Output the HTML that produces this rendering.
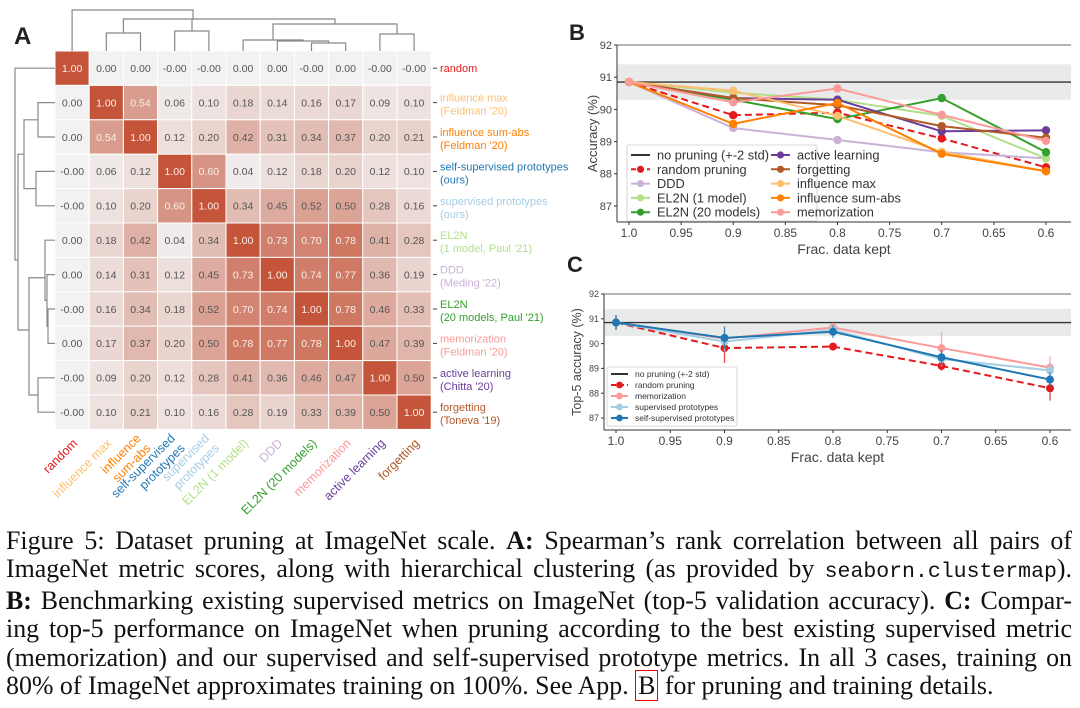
<!DOCTYPE html>
<html><head><meta charset="utf-8">
<style>
body{margin:0;width:1080px;height:708px;background:#fff;overflow:hidden;position:relative;font-family:"Liberation Sans",sans-serif}
svg{position:absolute;left:0;top:0}
#cap{position:absolute;left:6px;top:527px;width:1066px;font-family:"Liberation Serif",serif;font-size:25.9px;line-height:28.4px;text-align:justify;color:#111}
#cap .l{display:block;text-align:justify;text-align-last:justify;white-space:nowrap}
#cap .last{text-align-last:left}
.mono{font-family:"Liberation Mono",monospace;font-size:21.5px}
.bx{border:1.5px solid #e00;padding:0 2px}
</style></head><body>
<svg id="fig" width="1080" height="520"></svg>
<div id="cap">
<span class="l">Figure 5: Dataset pruning at ImageNet scale. <b>A:</b> Spearman’s rank correlation between all pairs of</span>
<span class="l">ImageNet metric scores, along with hierarchical clustering (as provided by <span class="mono">seaborn.clustermap</span>).</span>
<span class="l"><b>B:</b> Benchmarking existing supervised metrics on ImageNet (top-5 validation accuracy). <b>C:</b> Compar-</span>
<span class="l">ing top-5 performance on ImageNet when pruning according to the best existing supervised metric</span>
<span class="l">(memorization) and our supervised and self-supervised prototype metrics. In all 3 cases, training on</span>
<span class="l last">80% of ImageNet approximates training on 100%. See App. <span class="bx">B</span> for pruning and training details.</span>
</div>
<script>
const labels=["random","influence max","influence sum-abs","self-supervised prototypes","supervised prototypes","EL2N (1 model)","DDD","EL2N (20 models)","memorization","active learning","forgetting"];
const rowLabels=[["random"],["influence max","(Feldman '20)"],["influence sum-abs","(Feldman '20)"],["self-supervised prototypes","(ours)"],["supervised prototypes","(ours)"],["EL2N","(1 model, Paul '21)"],["DDD","(Meding '22)"],["EL2N","(20 models, Paul '21)"],["memorization","(Feldman '20)"],["active learning","(Chitta '20)"],["forgetting","(Toneva '19)"]];
const colLabels=[["random"],["influence max"],["influence","sum-abs"],["self-supervised","prototypes"],["supervised","prototypes"],["EL2N (1 model)"],["DDD"],["EL2N (20 models)"],["memorization"],["active learning"],["forgetting"]];
const colors=["#e41a1c","#fdbf6f","#ff7f00","#1f78b4","#a6cee3","#b2df8a","#cab2d6","#33a02c","#fb9a99","#6a3d9a","#b15928"];
const corrText=[
["1.00","0.00","0.00","-0.00","-0.00","0.00","0.00","-0.00","0.00","-0.00","-0.00"],
["0.00","1.00","0.54","0.06","0.10","0.18","0.14","0.16","0.17","0.09","0.10"],
["0.00","0.54","1.00","0.12","0.20","0.42","0.31","0.34","0.37","0.20","0.21"],
["-0.00","0.06","0.12","1.00","0.60","0.04","0.12","0.18","0.20","0.12","0.10"],
["-0.00","0.10","0.20","0.60","1.00","0.34","0.45","0.52","0.50","0.28","0.16"],
["0.00","0.18","0.42","0.04","0.34","1.00","0.73","0.70","0.78","0.41","0.28"],
["0.00","0.14","0.31","0.12","0.45","0.73","1.00","0.74","0.77","0.36","0.19"],
["-0.00","0.16","0.34","0.18","0.52","0.70","0.74","1.00","0.78","0.46","0.33"],
["0.00","0.17","0.37","0.20","0.50","0.78","0.77","0.78","1.00","0.47","0.39"],
["-0.00","0.09","0.20","0.12","0.28","0.41","0.36","0.46","0.47","1.00","0.50"],
["-0.00","0.10","0.21","0.10","0.16","0.28","0.19","0.33","0.39","0.50","1.00"]];
const fracs=[1.0,0.9,0.8,0.7,0.6];
const xTicks=[1.0,0.95,0.9,0.85,0.8,0.75,0.7,0.65,0.6];
const xTickLabels=["1.0","0.95","0.9","0.85","0.8","0.75","0.7","0.65","0.6"];
const yTicks=[87,88,89,90,91,92];
const baseline=90.85, bandLo=90.3, bandHi=91.4;
const bNames=["random pruning","DDD","EL2N (1 model)","EL2N (20 models)","active learning","forgetting","influence max","influence sum-abs","memorization"];
const bColors=["#e41a1c","#cab2d6","#b2df8a","#33a02c","#6a3d9a","#b15928","#fdbf6f","#ff7f00","#fb9a99"];
const bRandom=[90.85,89.82,89.9,89.1,88.2];
const bDDD=[90.85,89.42,89.05,88.67,88.48];
const bEL2N1=[90.85,90.52,90.3,89.8,88.48];
const bEL2N20=[90.85,90.3,89.7,90.35,88.67];
const bActive=[90.85,90.35,90.3,89.32,89.35];
const bForget=[90.85,90.35,90.13,89.48,89.12];
const bInflMax=[90.85,90.58,89.8,88.68,88.08];
const bInflSum=[90.85,89.55,90.2,88.62,88.08];
const bMemo=[90.85,90.22,90.65,89.83,89.02];
const cNames=["random pruning","memorization","supervised prototypes","self-supervised prototypes"];
const cColors=["#e41a1c","#fb9a99","#a6cee3","#1f78b4"];
const cRandom=[90.85,89.82,89.88,89.1,88.2];
const cMemo=[90.85,90.2,90.65,89.82,89.03];
const cSup=[90.85,90.08,90.55,89.38,88.92];
const cSelf=[90.85,90.23,90.48,89.45,88.55];
const cRandomErr=[0.3,0.6,0.15,0.2,0.5];
const cMemoErr=[0.3,0.5,0.2,0.65,0.45];
const cSupErr=[0.3,0.4,0.2,0.3,0.3];
const cSelfErr=[0.3,0.45,0.25,0.3,0.3];

const S=document.getElementById('fig');const NS="http://www.w3.org/2000/svg";
function el(t,a,p){const e=document.createElementNS(NS,t);for(const k in a)e.setAttribute(k,a[k]);(p||S).appendChild(e);return e;}
function txt(s,a,p){const e=el('text',a,p);e.textContent=s;return e;}
function lerp(a,b,t){return Math.round(a+(b-a)*t);}
function cellColor(v){v=Math.max(0,v);return `rgb(${lerp(242,196,v)},${lerp(242,85,v)},${lerp(242,58,v)})`;}

let t;
t=txt("A",{x:14,y:44,"font-size":24,"font-weight":"bold",fill:"#222"});
t=txt("B",{x:569,y:40,"font-size":22,"font-weight":"bold",fill:"#222"});
t=txt("C",{x:567,y:272,"font-size":22,"font-weight":"bold",fill:"#222"});

const hx0=55,hy0=51,cw=34.2,ch=34.4,n=labels.length;
const hm=el('g',{});
for(let i=0;i<n;i++)for(let j=0;j<n;j++){
 const v=parseFloat(corrText[i][j]);
 const r=el('rect',{x:hx0+j*cw,y:hy0+i*ch,width:cw,height:ch,fill:cellColor(v),stroke:"#fff","stroke-width":1},hm);
 
 const tt=txt(corrText[i][j],{x:hx0+(j+.5)*cw,y:hy0+(i+.5)*ch+3.8,"text-anchor":"middle","font-size":10.5,fill:v>0.53?"#fbeee9":"#555"},hm);
 
}
const cx=j=>hx0+(j+.5)*cw, ry=i=>hy0+(i+.5)*ch;
for(let i=0;i<n;i++){
 el('line',{x1:433,x2:437,y1:ry(i),y2:ry(i),stroke:"#444"});
 const g=el('g',{});
 const L=rowLabels[i];
 if(L.length==1)txt(L[0],{x:440,y:ry(i)+4,"font-size":11,fill:colors[i]},g);
 else{txt(L[0],{x:440,y:ry(i)-1,"font-size":11,fill:colors[i]},g);txt(L[1],{x:440,y:ry(i)+12,"font-size":11,fill:colors[i]},g);}
}
for(let j=0;j<n;j++){
 const L=colLabels[j];const g=el('g',{transform:`translate(${cx(j)+6},${444}) rotate(-45)`});
 
 if(L.length==1)txt(L[0],{x:0,y:0,"text-anchor":"end","font-size":12.5,fill:colors[j]},g);
 else{txt(L[0],{x:0,y:-7,"text-anchor":"end","font-size":12.5,fill:colors[j]},g);txt(L[1],{x:0,y:7,"text-anchor":"end","font-size":12.5,fill:colors[j]},g);}
}
const dg=el('g',{stroke:"#888","stroke-width":1.2,fill:"none"});
function U(g,x1,x2,y,yl,yr){el('path',{d:`M${x1},${yl}V${y}H${x2}V${yr}`},g);}
U(dg,cx(1),cx(2),33,51,51);U(dg,cx(3),cx(4),31,51,51);
U(dg,cx(7),cx(8),43,51,51);U(dg,cx(6),(cx(7)+cx(8))/2,41,51,43);
U(dg,cx(5),(cx(6)+(cx(7)+cx(8))/2)/2,40,51,41);
U(dg,cx(9),cx(10),34,51,51);
U(dg,273,cx(9.5),24,40,34);
U(dg,(cx(1)+cx(2))/2,263,19,33,19);
el('path',{d:`M263,19H335V24M192,31V19`},dg);
U(dg,cx(0),193,10,51,19);
const dl=el('g',{stroke:"#888","stroke-width":1.2,fill:"none"});
function V(g,y1,y2,x,xt,xb){el('path',{d:`M${xt},${y1}H${x}V${y2}H${xb}`},g);}
V(dl,ry(1),ry(2),38,55,55);V(dl,ry(3),ry(4),36,55,55);
V(dl,ry(7),ry(8),48,55,55);V(dl,ry(6),(ry(7)+ry(8))/2,47,55,48);
V(dl,ry(5),(ry(6)+(ry(7)+ry(8))/2)/2,45,55,47);
V(dl,ry(9),ry(10),38,55,55);
V(dl,(ry(5)+ry(6)+ry(7)/2)/2.5+10,ry(9.5),29,45,38);
V(dl,ry(1.5),ry(3.5),24,38,36);
V(dl,ry(2.5),330,18,24,29);
V(dl,ry(0),260,15,55,18);

function chart(o){
 const X=v=>o.x1+(1.0-v)/(0.4)*(o.x2-o.x1);
 const Y=v=>o.yTop+(92-v)*o.unit;
 const g=el('g',{});
 const band=el('rect',{x:o.bx0,y:Y(bandHi),width:o.bx1-o.bx0,height:Y(bandLo)-Y(bandHi),fill:"#e9ebeb"},g);
 
 el('line',{x1:o.bx0,x2:o.bx1,y1:o.yTop,y2:o.yTop,stroke:"#888","stroke-width":1.2},g);
 el('line',{x1:o.bx0,x2:o.bx1,y1:o.yBot,y2:o.yBot,stroke:"#333","stroke-width":1},g);
 el('line',{x1:o.bx0,x2:o.bx0,y1:o.yTop,y2:o.yBot,stroke:"#333","stroke-width":1},g);
 const bl=el('line',{x1:o.bx0,x2:o.bx1,y1:Y(baseline),y2:Y(baseline),stroke:"#333","stroke-width":1.4},g);
 
 yTicks.forEach(v=>{el('line',{x1:o.bx0-3,x2:o.bx0,y1:Y(v),y2:Y(v),stroke:"#333"},g);
  const tl=txt(String(v),{x:o.bx0-5,y:Y(v)+o.yfs*0.35,"text-anchor":"end","font-size":o.yfs,fill:"#444"},g);});
 xTicks.forEach((v,k)=>{el('line',{x1:X(v),x2:X(v),y1:o.yBot,y2:o.yBot+3,stroke:"#333"},g);
  const tl=txt(xTickLabels[k],{x:X(v),y:o.yBot+15,"text-anchor":"middle","font-size":12,fill:"#444"},g);});
 const xl=txt("Frac. data kept",{x:(o.bx0+o.bx1)/2,y:o.yBot+32,"text-anchor":"middle","font-size":14,fill:"#444"},g);
 const yl=txt(o.ylabel,{x:0,y:0,"text-anchor":"middle","font-size":o.ylfs,fill:"#444",transform:`translate(${o.ylx},${(o.yTop+o.yBot)/2}) rotate(-90)`},g);
 o.series.forEach((s,k)=>{
  const sg=el('g',{},g);
  if(o.errs){s.forEach((v,i)=>{el('line',{x1:X(fracs[i]),x2:X(fracs[i]),y1:Y(v-o.errs[k][i]),y2:Y(v+o.errs[k][i]),stroke:o.cols[k],"stroke-width":1.3,opacity:0.8},sg);});}
  el('polyline',{points:s.map((v,i)=>X(fracs[i])+","+Y(v)).join(" "),fill:"none",stroke:o.cols[k],"stroke-width":o.lw,"stroke-dasharray":k==0?"7,4":"none"},sg);
  s.forEach((v,i)=>{const c=el('circle',{cx:X(fracs[i]),cy:Y(v),r:o.mr,fill:o.cols[k]},sg);});
 });
 const lg=el('g',{},g);
 el('rect',{x:o.lx,y:o.ly,width:o.lw2,height:o.lh,fill:"#fff",stroke:"#ccc","stroke-width":0.8,rx:2},lg);
 const ents=[["no pruning (+-2 std)","#333"]].concat(o.names.map((nm,k)=>[nm,o.cols[k]]));
 ents.forEach((e,k)=>{
  const col=Math.floor(k/o.perCol),row=k%o.perCol;
  const ex=o.lx+4+col*o.colW,ey=o.ly+o.ly0+row*o.lstep;
  const eg=el('g',{},lg);
  el('line',{x1:ex,x2:ex+o.lineLen,y1:ey,y2:ey,stroke:e[1],"stroke-width":2,"stroke-dasharray":k==1?"5,3":"none"},eg);
  if(k>0)el('circle',{cx:ex+o.lineLen/2,cy:ey,r:o.mr*0.85,fill:e[1]},eg);
  txt(e[0],{x:ex+o.lineLen+7,y:ey+o.lfs*0.35,"font-size":o.lfs,fill:"#333"},eg);
 });
}
chart({name:"panel-b-chart",x1:629,x2:1046,bx0:617,bx1:1071,yTop:45,yBot:222,unit:32.2,yfs:11,ylabel:"Accuracy (%)",ylfs:13,ylx:597,
 series:[bRandom,bDDD,bEL2N1,bEL2N20,bActive,bForget,bInflMax,bInflSum,bMemo],names:bNames,cols:bColors,lw:2,mr:4.2,
 lx:627,ly:145,lw2:190,lh:76,ly0:10,lstep:14.3,perCol:5,colW:140,lineLen:19,lfs:12.8});
chart({name:"panel-c-chart",x1:616,x2:1050,bx0:604,bx1:1071,yTop:294,yBot:430,unit:24.8,yfs:9,ylabel:"Top-5 accuracy (%)",ylfs:12.5,ylx:581,
 series:[cRandom,cMemo,cSup,cSelf],errs:[cRandomErr,cMemoErr,cSupErr,cSelfErr],names:cNames,cols:cColors,lw:2,mr:4,
 lx:607,ly:367,lw2:130,lh:59,ly0:7,lstep:11,perCol:5,colW:0,lineLen:17,lfs:8.5});
</script>
</body></html>
